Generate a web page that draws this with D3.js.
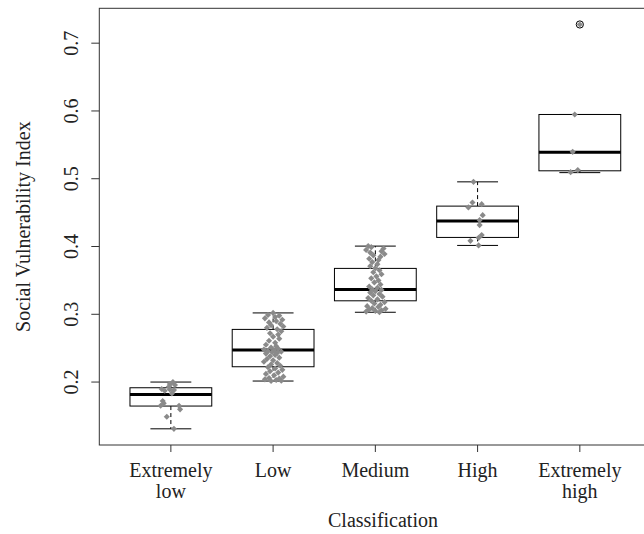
<!DOCTYPE html>
<html>
<head>
<meta charset="utf-8">
<script src="https://cdn.jsdelivr.net/npm/d3@7"></script>
<style>
  html, body { margin: 0; padding: 0; background: #fff; }
  svg { display: block; }
  text { font-family: "Liberation Serif", "Times New Roman", serif; fill: #222; }
</style>
</head>
<body>
<svg id="chart" width="644" height="534"></svg>
<script>
// ---------- data ----------
const categories = ["Extremely\nlow", "Low", "Medium", "High", "Extremely\nhigh"];
const yTicks = [0.2, 0.3, 0.4, 0.5, 0.6, 0.7];

// box statistics
const lowerWhisker = [0.131, 0.2015, 0.303, 0.4016, 0.509];
const q1          = [0.1646, 0.2226, 0.3199, 0.4134, 0.5117];
const median      = [0.1818, 0.2472, 0.3367, 0.4375, 0.5392];
const q3          = [0.1916, 0.2777, 0.3677, 0.4596, 0.5948];
const upperWhisker= [0.200, 0.302, 0.4006, 0.4954, 0.5948];
const outliers    = [[], [], [], [], [0.7276]];

// observations: [value, horizontal jitter in category units]
const extremelyLowPts = [
  [0.200,0.02],[0.197,-0.01],[0.1956,0.04],[0.1897,-0.09],[0.1892,-0.01],[0.1882,0.03],
  [0.1872,-0.06],[0.1833,0.01],[0.1931,-0.02],[0.172,-0.08],[0.1686,-0.07],[0.165,-0.10],
  [0.165,0.08],[0.1597,0.09],[0.1488,-0.04],[0.131,0.03]
];
const lowPts = [
  [0.302,0.00],[0.299,-0.05],[0.298,0.06],[0.296,0.02],[0.294,-0.08],[0.292,0.09],[0.290,0.03],
  [0.288,-0.04],[0.286,0.07],[0.284,-0.02],[0.282,0.10],[0.280,-0.06],[0.278,0.04],[0.275,0.08],
  [0.272,-0.03],[0.270,0.05],[0.267,0.00],[0.264,0.06],[0.261,-0.04],[0.258,0.02],[0.255,-0.07],
  [0.253,0.03],[0.251,-0.02],[0.249,0.05],[0.248,-0.09],[0.247,0.01],[0.246,-0.05],[0.245,0.08],
  [0.244,-0.01],[0.243,0.04],[0.242,-0.07],[0.240,0.02],[0.238,-0.03],[0.236,0.06],[0.234,-0.06],
  [0.232,0.00],[0.230,-0.09],[0.228,0.04],[0.226,-0.02],[0.224,0.07],[0.222,-0.05],[0.220,0.02],
  [0.218,0.09],[0.216,-0.03],[0.214,0.05],[0.212,-0.07],[0.210,0.01],[0.208,0.10],[0.206,-0.04],
  [0.205,0.06],[0.204,-0.08],[0.203,0.03],[0.202,0.08],[0.2015,-0.02]
];
const mediumPts = [
  [0.4006,-0.07],[0.399,-0.04],[0.397,0.08],[0.395,-0.09],[0.393,0.06],[0.391,-0.05],[0.389,0.09],
  [0.387,-0.02],[0.385,0.05],[0.382,-0.06],[0.380,0.03],[0.377,-0.03],[0.374,0.02],[0.371,-0.05],
  [0.368,0.00],[0.365,0.04],[0.362,-0.02],[0.359,0.06],[0.356,0.01],[0.353,-0.04],[0.350,0.03],
  [0.347,-0.01],[0.344,0.05],[0.341,-0.06],[0.339,0.02],[0.337,-0.03],[0.336,0.06],[0.334,0.00],
  [0.332,-0.05],[0.330,0.04],[0.328,-0.02],[0.326,0.07],[0.324,-0.07],[0.322,0.02],[0.320,-0.04],
  [0.318,0.09],[0.316,-0.01],[0.314,0.05],[0.312,-0.08],[0.311,0.03],[0.309,-0.03],[0.308,0.10],
  [0.307,-0.06],[0.306,0.06],[0.305,0.00],[0.304,-0.09],[0.303,0.04]
];
const highPts = [
  [0.4954,-0.04],[0.465,-0.05],[0.4577,-0.09],[0.4625,0.04],[0.4463,0.05],[0.439,0.02],
  [0.4316,0.02],[0.4168,0.04],[0.4128,0.01],[0.4084,-0.07],[0.4016,0.01]
];
const extremelyHighPts = [
  [0.5948,-0.05],[0.5397,-0.07],[0.5127,-0.02],[0.5097,-0.09],[0.7276,0.00]
];
const points = [extremelyLowPts, lowPts, mediumPts, highPts, extremelyHighPts];

const xTitle = "Classification";
const yTitle = "Social Vulnerability Index";

// ---------- layout ----------
const svg = d3.select("#chart");
const plot = { left: 99.3, right: 651.4, top: 8.3, bottom: 445 };

const dataMin = d3.min([...lowerWhisker, ...points.flat().map(d => d[0])]);
const dataMax = d3.max([...upperWhisker, ...outliers.flat(), ...points.flat().map(d => d[0])]);
const pad = (dataMax - dataMin) * 0.04;

const x = d3.scaleLinear().domain([0.3, categories.length + 0.7]).range([plot.left, plot.right]);
const y = d3.scaleLinear().domain([dataMin - pad, dataMax + pad]).range([plot.bottom, plot.top]);

const step = x(2) - x(1);
const boxW = step * 0.8;
const capW = boxW * 0.5;

// boxes
const g = svg.append("g");
categories.forEach((c, i) => {
  const cx = x(i + 1);
  const bg = g.append("g");
  bg.append("line").attr("x1", cx).attr("x2", cx).attr("y1", y(q3[i])).attr("y2", y(upperWhisker[i]))
    .attr("stroke", "#000").attr("stroke-width", 1).attr("stroke-dasharray", "4,3");
  bg.append("line").attr("x1", cx).attr("x2", cx).attr("y1", y(q1[i])).attr("y2", y(lowerWhisker[i]))
    .attr("stroke", "#000").attr("stroke-width", 1).attr("stroke-dasharray", "4,3");
  [upperWhisker[i], lowerWhisker[i]].forEach(v => {
    bg.append("line").attr("x1", cx - capW / 2).attr("x2", cx + capW / 2)
      .attr("y1", y(v)).attr("y2", y(v)).attr("stroke", "#000").attr("stroke-width", 1);
  });
  bg.append("rect").attr("x", cx - boxW / 2).attr("width", boxW)
    .attr("y", y(q3[i])).attr("height", y(q1[i]) - y(q3[i]))
    .attr("fill", "#fff").attr("stroke", "#000").attr("stroke-width", 1);
  bg.append("line").attr("x1", cx - boxW / 2).attr("x2", cx + boxW / 2)
    .attr("y1", y(median[i])).attr("y2", y(median[i]))
    .attr("stroke", "#000").attr("stroke-width", 3);
  outliers[i].forEach(v => {
    bg.append("circle").attr("cx", cx).attr("cy", y(v)).attr("r", 3.6)
      .attr("fill", "none").attr("stroke", "#000").attr("stroke-width", 1);
  });
});

// jittered points
const diamond = d3.symbol().type(d3.symbolDiamond2).size(24);
points.forEach((pts, i) => {
  g.append("g").selectAll("path").data(pts).join("path")
    .attr("d", diamond)
    .attr("transform", d => `translate(${x(i + 1 + d[1])},${y(d[0])})`)
    .attr("fill", "#8a8a8a");
});

// frame
svg.append("rect").attr("x", plot.left).attr("y", plot.top)
  .attr("width", plot.right - plot.left).attr("height", plot.bottom - plot.top)
  .attr("fill", "none").attr("stroke", "#333").attr("stroke-width", 1);

// x axis
const xAxis = svg.append("g");
categories.forEach((c, i) => {
  const cx = x(i + 1);
  xAxis.append("line").attr("x1", cx).attr("x2", cx).attr("y1", plot.bottom).attr("y2", plot.bottom + 7)
    .attr("stroke", "#333");
  const lines = c.split("\n");
  const t = xAxis.append("text").attr("text-anchor", "middle").attr("font-size", 20);
  lines.forEach((l, k) => t.append("tspan").attr("x", cx).attr("y", 477 + k * 21).text(l));
});
svg.append("text").attr("x", 383).attr("y", 526.5).attr("text-anchor", "middle")
  .attr("font-size", 20).text(xTitle);

// y axis
const yAxis = svg.append("g");
yTicks.forEach(v => {
  yAxis.append("line").attr("x1", plot.left - 8).attr("x2", plot.left).attr("y1", y(v)).attr("y2", y(v))
    .attr("stroke", "#333");
  yAxis.append("text").attr("transform", `translate(77.7,${y(v)}) rotate(-90)`)
    .attr("text-anchor", "middle").attr("font-size", 20).text(d3.format(".1f")(v));
});
svg.append("text").attr("transform", `translate(30,${(plot.top + plot.bottom) / 2}) rotate(-90)`)
  .attr("text-anchor", "middle").attr("font-size", 20).text(yTitle);
</script>
</body>
</html>
